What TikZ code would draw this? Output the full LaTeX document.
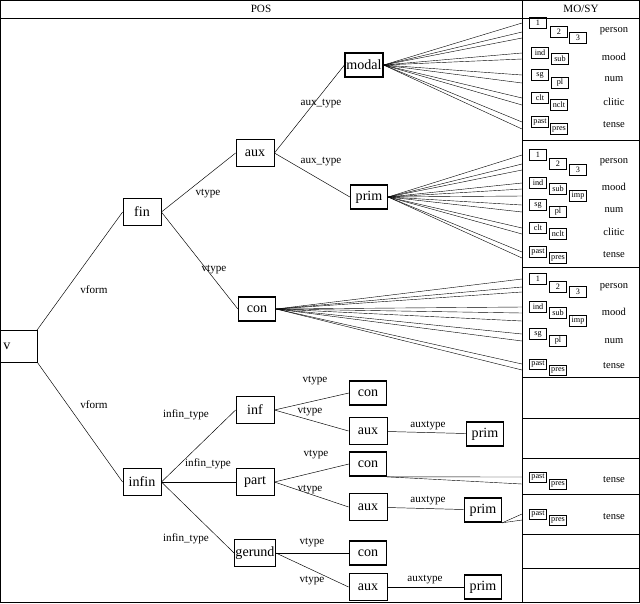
\documentclass[tikz,border=0pt]{standalone}
\usepackage{fontspec}
\setmainfont{Liberation Serif}
\begin{document}
\begin{tikzpicture}[x=0.03cm,y=-0.03cm,
  cat/.style={draw,minimum width=1.15cm,minimum height=0.8cm,font=\fontsize{12}{13}\selectfont,inner sep=1pt},
  leaf/.style={cat,line width=1.4pt,minimum width=1.1cm,minimum height=0.72cm},
  lab/.style={font=\fontsize{9.5}{10}\selectfont,inner sep=1pt},
  val/.style={draw,line width=0.3pt,font=\fontsize{7}{8}\selectfont,minimum width=0.5cm,minimum height=0.32cm,inner sep=0.5pt},
  feat/.style={font=\fontsize{9}{10}\selectfont,inner sep=0pt},
  fan/.style={line width=0.35pt}]
\useasboundingbox (0,0) rectangle (640,603);
% frame
\draw (0.5,0.5) rectangle (639.5,602.5);
\draw (0,18) -- (640,18);
\draw (522,0) -- (522,603);
\coordinate (div) at (522,0);
\node[lab] (hpos) at (261,9) {POS};
\node[lab] (hmo) at (581,9) {MO/SY};
\foreach \y in {140,267,377,418,458,494,534,568} \draw (522,\y) -- (640,\y);

% tree nodes
\node[cat,minimum width=1.1cm,minimum height=0.95cm,anchor=west,align=left] (v) at (0,346) {v\hspace{0.7cm}};
\node[cat] (fin) at (142,212) {fin};
\node[cat] (infin) at (142,482) {infin};
\node[cat] (aux1) at (255,153) {aux};
\node[leaf] (modal) at (364,65) {modal};
\node[leaf] (prim1) at (369,197) {prim};
\node[leaf] (con1) at (257,309) {con};
\node[cat] (inf) at (255,410) {inf};
\node[leaf] (con2) at (368,393) {con};
\node[cat] (aux2) at (368,431) {aux};
\node[leaf] (prim2) at (485,434) {prim};
\node[cat] (part) at (255,482) {part};
\node[leaf] (con3) at (368,464) {con};
\node[cat] (aux3) at (368,507) {aux};
\node[leaf] (prim3) at (483,510) {prim};
\node[cat] (ger) at (255,553) {gerund};
\node[leaf] (con4) at (368,553) {con};
\node[cat] (aux4) at (368,587) {aux};
\node[leaf] (prim4) at (483,587) {prim};

% tree edges
\draw (v.north east) -- (fin.west);
\draw (v.south east) -- (infin.west);
\draw (fin.east) -- (aux1.west);
\draw (fin.east) -- (con1.west);
\draw (aux1.east) -- (modal.west);
\draw (aux1.east) -- (prim1.west);
\foreach \c in {inf,part,ger} \draw (infin.east) -- (\c.west);
\draw (inf.east) -- (con2.west);
\draw (inf.east) -- (aux2.west);
\draw (part.east) -- (con3.west);
\draw (part.east) -- (aux3.west);
\draw (ger.east) -- (con4.west);
\draw (ger.east) -- (aux4.west);
\draw (aux2) -- (prim2);
\draw (aux3) -- (prim3);
\draw (aux4) -- (prim4);

% edge labels
\node[lab] (l1) at (94,290) {vform};
\node[lab] (l2) at (94,405) {vform};
\node[lab] (l3) at (208,194) {vtype};
\node[lab] (l4) at (214,270) {vtype};
\node[lab] (l5) at (321,104) {aux\_type};
\node[lab] (l6) at (321,162) {aux\_type};
\node[lab] (l7) at (186,415) {infin\_type};
\node[lab] (l8) at (208,464) {infin\_type};
\node[lab] (l9) at (186,539) {infin\_type};
\node[lab] (l10) at (315,381) {vtype};
\node[lab] (l11) at (310,412) {vtype};
\node[lab] (l12) at (316,455) {vtype};
\node[lab] (l13) at (310,490) {vtype};
\node[lab] (l14) at (312,543) {vtype};
\node[lab] (l15) at (312,581) {vtype};
\node[lab] (l16) at (428,426) {auxtype};
\node[lab] (l17) at (428,501) {auxtype};
\node[lab] (l18) at (425,580) {auxtype};

% feature values: name/x/y/text
\foreach \n/\x/\y/\t in {
  a1/538/23/1, a2/559/32/2, a3/578/38/3, am1/540/53/ind, am2/560/59/sub,
  an1/540/75/sg, an2/560/83/pl, ac1/540/98/clt, ac2/559/105/nclt,
  at1/540/122/past, at2/559/129/pres,
  b1/538/155/1, b2/558/164/2, b3/578/170/3, bm1/538/183/ind, bm2/558/189/sub, bm3/578/196/imp,
  bn1/538/205/sg, bn2/558/212/pl, bc1/538/228/clt, bc2/558/234/nclt,
  bt1/538/252/past, bt2/558/258/pres,
  c1/538/279/1, c2/558/287/2, c3/578/292/3, cm1/538/307/ind, cm2/558/313/sub, cm3/578/321/imp,
  cn1/538/334/sg, cn2/558/341/pl, ct1/538/364/past, ct2/558/370/pres,
  dt1/538/477/past, dt2/558/484/pres, et1/538/514/past, et2/558/520/pres}
  \node[val] (\n) at (\x,\y) {\t};

% feature names
\foreach \n/\y/\t in {fa1/31/person, fa2/57/mood, fa3/79/num, fa4/102/clitic, fa5/125/tense,
  fb1/162/person, fb2/187/mood, fb3/210/num, fb4/232/clitic, fb5/255/tense,
  fc1/287/person, fc2/312/mood, fc3/341/num, fc4/366/tense,
  fd/480/tense, fe/517/tense}
  \node[feat] (\n) at (614,\y) {\t};

% fans
\foreach \t in {a1,a2,a3,am1,am2,an1,an2,ac1,ac2,at1,at2}
  \draw[fan] (modal.east) -- (\t.west -| div);
\foreach \t in {b1,b2,b3,bm1,bm2,bm3,bn1,bn2,bc1,bc2,bt1,bt2}
  \draw[fan] (prim1.east) -- (\t.west -| div);
\foreach \t in {c1,c2,c3,cm1,cm2,cm3,cn1,cn2,ct1,ct2}
  \draw[fan] (con1.east) -- (\t.west -| div);
\foreach \t in {dt1,dt2} \draw[fan] (con3.south east) -- (\t.west -| div);
\foreach \t in {et1,et2} \draw[fan] (prim3.south east) -- (\t.west -| div);
\end{tikzpicture}
\end{document}
